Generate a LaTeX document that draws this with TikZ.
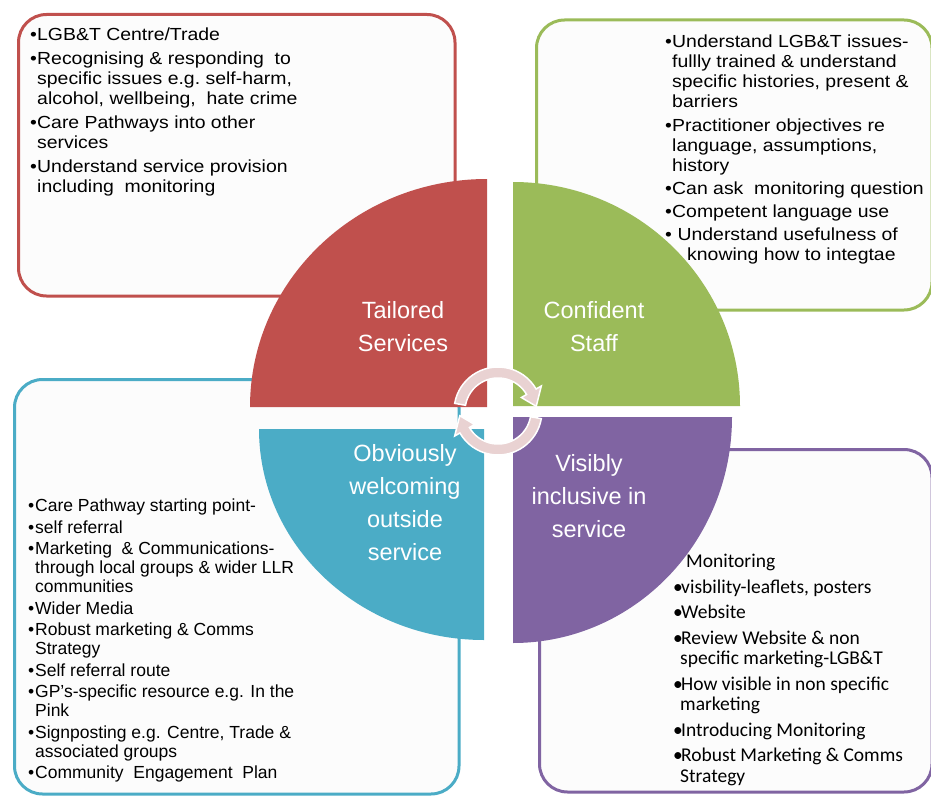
\documentclass[tikz,border=0pt]{standalone}
\usepackage{fontspec}
\setmainfont{Liberation Sans}
\newfontfamily\widefont{Liberation Sans}[FakeStretch=1.11]
\newfontfamily\calfont{Carlito}
\usepackage{tikz}
\usetikzlibrary{calc}
\definecolor{qred}{RGB}{192,80,77}
\definecolor{qgreen}{RGB}{155,187,89}
\definecolor{qblue}{RGB}{75,172,198}
\definecolor{qpurple}{RGB}{128,100,162}
\definecolor{boxfill}{RGB}{252,252,252}
\definecolor{ringpink}{RGB}{233,210,210}
\newcommand{\rr}{44}
\newcommand{\ri}{33}
\newcommand{\bul}{\makebox[7pt][l]{\textbullet}}
\newcommand{\ind}{\hspace*{7pt}}
\tikzset{
  infobox/.style={line width=3pt, fill=boxfill, rounded corners=28pt},
  qlabel/.style={text=white, align=center, inner sep=0pt, font=\fontsize{23.5}{33}\selectfont},
  itemtext/.style={anchor=north west, align=left, inner sep=0pt}
}
\begin{document}
\begin{tikzpicture}[x=1pt,y=1pt]
\useasboundingbox (0,0) rectangle (931,-797);
\coordinate (cr) at (487,-407);
\coordinate (cg) at (513,-406);
\coordinate (cp) at (513,-417);
\coordinate (cb) at (484,-429);
\coordinate (cc) at (498,-411);
\draw[infobox, draw=qred] (18.5,-14.5) rectangle (455,-296);
\draw[infobox, draw=qgreen] (536.5,-20) rectangle (932,-310);
\draw[infobox, draw=qblue] (14.5,-379.5) rectangle (459,-794);
\draw[infobox, draw=qpurple] (539.5,-449.5) rectangle (932,-792);
\fill[qred] (cr) -- ++(-237,0) arc[start angle=180, end angle=90, x radius=237pt, y radius=228pt] -- cycle;
\fill[qgreen] (cg) -- ++(0,224) arc[start angle=90, end angle=0, x radius=227pt, y radius=224pt] -- cycle;
\fill[qpurple] (cp) -- ++(219,0) arc[start angle=0, end angle=-90, x radius=219pt, y radius=226pt] -- cycle;
\fill[qblue] (cb) -- ++(0,-211) arc[start angle=-90, end angle=-180, x radius=225pt, y radius=211pt] -- cycle;
\foreach \a in {0,180}{
  \begin{scope}[shift={(cc)}, rotate=\a]
  \filldraw[fill=ringpink, draw=white, line width=1.5pt] (170:\rr) arc[start angle=170, end angle=30, radius=\rr pt]
    -- (30:50) -- (7:38.5) -- (30:27) -- (30:\ri) arc[start angle=30, end angle=170, radius=\ri pt] -- cycle;
  \end{scope}
}
\node[qlabel] (tailored) at (403,-326.5) {Tailored\\Services};
\node[qlabel] (confident) at (594,-326.5) {Confident\\Staff};
\node[qlabel] (welcoming) at (405,-503) {Obviously\\welcoming\\outside\\service};
\node[qlabel] (inclusive) at (589,-496.5) {Visibly\\inclusive in\\service};
\node[itemtext, font=\widefont\fontsize{17.5}{20}\selectfont] (tailoredlist) at (30,-28) {%
\bul LGB\&T Centre/Trade\\[4pt]
\bul Recognising \& responding\ \ to\\
\ind specific issues e.g.\ self-harm,\\
\ind alcohol, wellbeing,\ \ hate crime\\[4pt]
\bul Care Pathways\ into other\\
\ind services\\[4pt]
\bul Understand service provision\\
\ind including\ \ monitoring};
\node[itemtext, font=\widefont\fontsize{17.5}{20}\selectfont] (stafflist) at (665,-35) {%
\bul Understand LGB\&T issues-\\
\ind fullly trained \& understand\\
\ind specific histories, present \&\\
\ind barriers\\[4pt]
\bul Practitioner objectives re\\
\ind language,\ assumptions,\\
\ind history\\[3pt]
\bul Can ask\ \ monitoring question\\[3pt]
\bul Competent language\ use\\[3pt]
\bul\ Understand usefulness of\\
\hspace*{22pt}knowing\ how to integtae};
\node[itemtext, font=\fontsize{17.5}{19}\selectfont] (welcominglist) at (28,-499) {%
\bul Care Pathway starting point-\\[2.5pt]
\bul self referral\\[2.5pt]
\bul Marketing\ \ \& Communications-\\
\ind through\ local groups\ \& wider LLR\\
\ind communities\\[2.5pt]
\bul Wider Media\\[2.5pt]
\bul Robust marketing \& Comms\\
\ind Strategy\\[2.5pt]
\bul Self referral route\\[2.5pt]
\bul GP's-specific resource e.g. In the\\
\ind Pink\\[2.5pt]
\bul Signposting\ e.g. Centre, Trade \&\\
\ind associated groups\\[2.5pt]
\bul Community\ \ Engagement\ \ Plan};
\node[itemtext, font=\calfont\fontsize{19.5}{20.5}\selectfont] (inclusivelist) at (673,-554) {%
\hspace*{13pt}Monitoring\\[5pt]
\makebox[8pt][l]{\textbullet}visbility-leaflets,\ posters\\[5pt]
\makebox[8pt][l]{\textbullet}Website\\[5pt]
\makebox[8pt][l]{\textbullet}Review Website \& non\\
\hspace*{7pt}specific marketing-LGB\&T\\[5pt]
\makebox[8pt][l]{\textbullet}How visible\ in non specific\\
\hspace*{7pt}marketing\\[5pt]
\makebox[8pt][l]{\textbullet}Introducing Monitoring\\[5pt]
\makebox[8pt][l]{\textbullet}Robust Marketing \& Comms\\
\hspace*{7pt}Strategy};
\end{tikzpicture}
\end{document}
